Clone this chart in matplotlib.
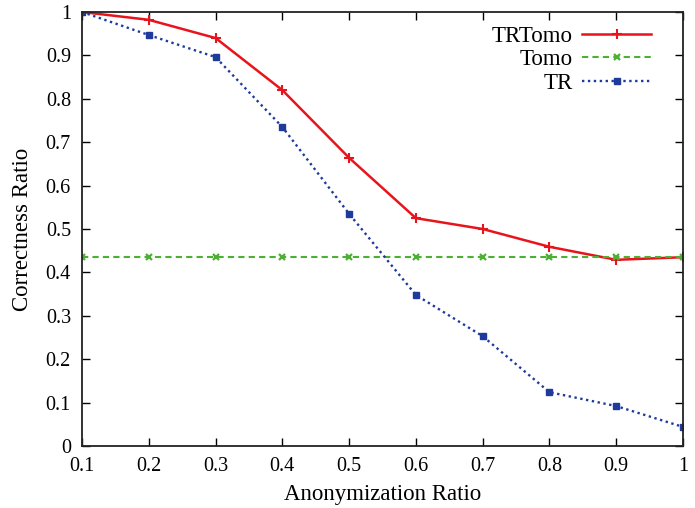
import matplotlib
matplotlib.use("Agg")
import matplotlib.pyplot as plt

x = [0.1, 0.2, 0.3, 0.4, 0.5, 0.6, 0.7, 0.8, 0.9, 1.0]
trtomo = [1.0, 0.982, 0.940, 0.820, 0.664, 0.525, 0.500, 0.459, 0.429, 0.435]
tomo = [0.435] * 10
tr = [1.0, 0.947, 0.896, 0.735, 0.535, 0.348, 0.253, 0.124, 0.092, 0.044]

xticks = [0.1, 0.2, 0.3, 0.4, 0.5, 0.6, 0.7, 0.8, 0.9, 1.0]
xticklabels = ["0.1", "0.2", "0.3", "0.4", "0.5", "0.6", "0.7", "0.8", "0.9", "1"]
yticks = [0, 0.1, 0.2, 0.3, 0.4, 0.5, 0.6, 0.7, 0.8, 0.9, 1.0]
yticklabels = ["0", "0.1", "0.2", "0.3", "0.4", "0.5", "0.6", "0.7", "0.8", "0.9", "1"]

plt.rcParams['font.family'] = ['Liberation Serif', 'DejaVu Serif']

fig = plt.figure(figsize=(6.95, 5.08), dpi=100)
ax = fig.add_axes([82/695, 1-446/508, (683-82)/695, (446-12)/508])

ax.plot(x, trtomo, color='#e8141c', lw=1.8, marker='+', ms=7, mew=1.5, label='TRTomo')
ax.plot(x, tomo, color='#4cb032', lw=1.5, ls=(0, (3, 2)), marker='x', ms=4.5, mew=1.6, label='Tomo')
ax.plot(x, tr, color='#1d3a9c', lw=1.7, ls=(0, (1, 1.5)), marker='s', ms=4.5, mew=1, label='TR')

ax.set_xlim(0.1, 1.0)
ax.set_ylim(0, 1.0)
ax.set_xticks(xticks)
ax.set_xticklabels(xticklabels)
ax.set_yticks(yticks)
ax.set_yticklabels(yticklabels)
ax.tick_params(direction='in', top=True, right=True, length=6, width=1, labelsize=14.5)
ax.tick_params(axis='x', pad=8)
ax.tick_params(axis='y', pad=8)
for s in ax.spines.values():
    s.set_linewidth(1.3)
    s.set_color('#222222')

ax.set_xlabel('Anonymization Ratio', fontsize=16.5, labelpad=6)
ax.set_ylabel('Correctness Ratio', fontsize=16.5, labelpad=9)

leg = ax.legend(loc='upper right', bbox_to_anchor=(0.962, 0.99), frameon=False,
                markerfirst=False, fontsize=16.5, handlelength=3.0, labelspacing=0.12,
                borderaxespad=0.0, handletextpad=0.4)

fig.savefig('out.png', dpi=100)
